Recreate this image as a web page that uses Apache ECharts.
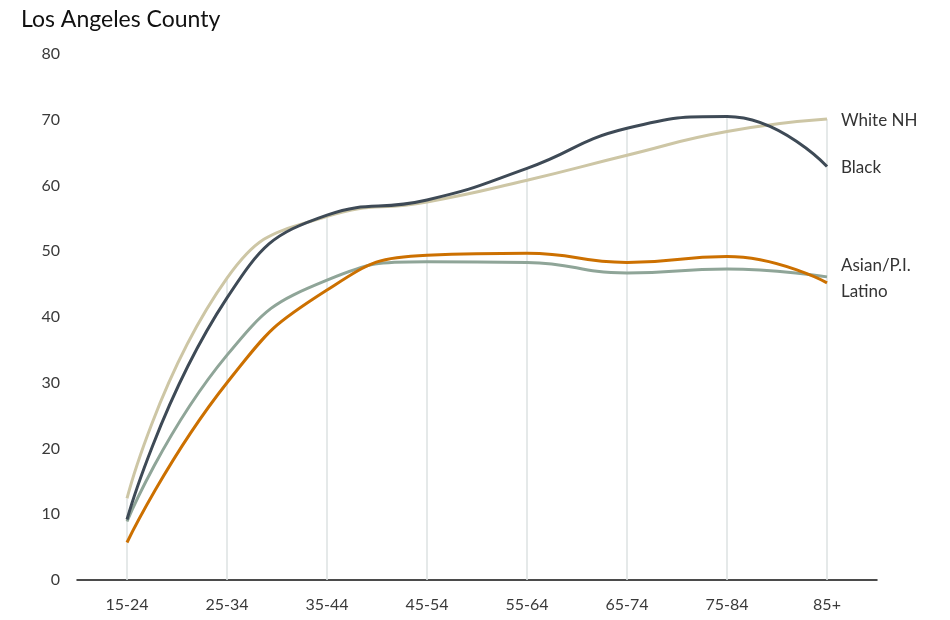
<!DOCTYPE html>
<html>
<head>
<meta charset="utf-8">
<script src="https://cdn.jsdelivr.net/npm/echarts@6/dist/echarts.min.js"></script>
<style>
html,body{margin:0;padding:0;background:#fff;}
#chart{width:950px;height:620px;}
</style>
</head>
<body>
<div id="chart"></div>
<script>
var categories = ['15-24','25-34','35-44','45-54','55-64','65-74','75-84','85+'];
var whiteNH = [12.4, 45.9, 55.3, 57.5, 60.8, 64.6, 68.2, 70.1];
var black   = [9.2, 42.9, 55.5, 57.8, 62.6, 68.7, 70.5, 62.9];
var asianPI = [8.9, 34.2, 45.6, 48.4, 48.3, 46.7, 47.3, 46.1];
var latino  = [5.7, 30.0, 44.1, 49.4, 49.7, 48.3, 49.2, 45.2];
var yTicks  = [0, 10, 20, 30, 40, 50, 60, 70, 80];

var dropTops = categories.map(function(c, i){
  return Math.max(whiteNH[i], black[i], asianPI[i], latino[i]);
});

var FONT = 'Lato, "Open Sans", sans-serif';

function lineSeries(name, data, color, z, offsetY){
  return {
    name: name, type: 'line', data: data, smooth: 0.5,
    symbol: 'none', z: z,
    lineStyle: {color: color, width: 3},
    itemStyle: {color: color},
    endLabel: {
      show: true, formatter: name, color: '#333',
      fontFamily: FONT, fontSize: 17, distance: 14,
      offset: [0, offsetY]
    },
    emphasis: {disabled: true}
  };
}

var chart = echarts.init(document.getElementById('chart'));
chart.setOption({
  animation: false,
  title: {
    text: 'Los Angeles County', left: 16, top: 3,
    textStyle: {fontFamily: FONT, fontSize: 23, fontWeight: 'normal', color: '#111'}
  },
  grid: {left: 77, right: 73, top: 54, bottom: 40, containLabel: false},
  xAxis: {
    type: 'category', data: categories, boundaryGap: true,
    axisLine: {show: true, lineStyle: {color: '#111', width: 1.5}},
    axisTick: {show: false},
    axisLabel: {color: '#3a3a3a', fontFamily: FONT, fontSize: 16, margin: 17},
    splitLine: {show: false}
  },
  yAxis: {
    type: 'value', min: yTicks[0], max: yTicks[yTicks.length-1], interval: 10,
    axisLine: {show: false}, axisTick: {show: false},
    axisLabel: {color: '#3a3a3a', fontFamily: FONT, fontSize: 16, margin: 17},
    splitLine: {show: false}
  },
  series: [
    {
      type: 'bar', data: dropTops, barWidth: 1.5, silent: true, z: 1,
      itemStyle: {color: '#dde2e2'}, emphasis: {disabled: true}
    },
    lineSeries('White NH', whiteNH, '#cdc6a5', 3, 1),
    lineSeries('Black', black, '#3e4a56', 4, 1),
    lineSeries('Asian/P.I.', asianPI, '#8fa598', 3, -11),
    lineSeries('Latino', latino, '#cc7000', 4, 9)
  ]
});
</script>
</body>
</html>
